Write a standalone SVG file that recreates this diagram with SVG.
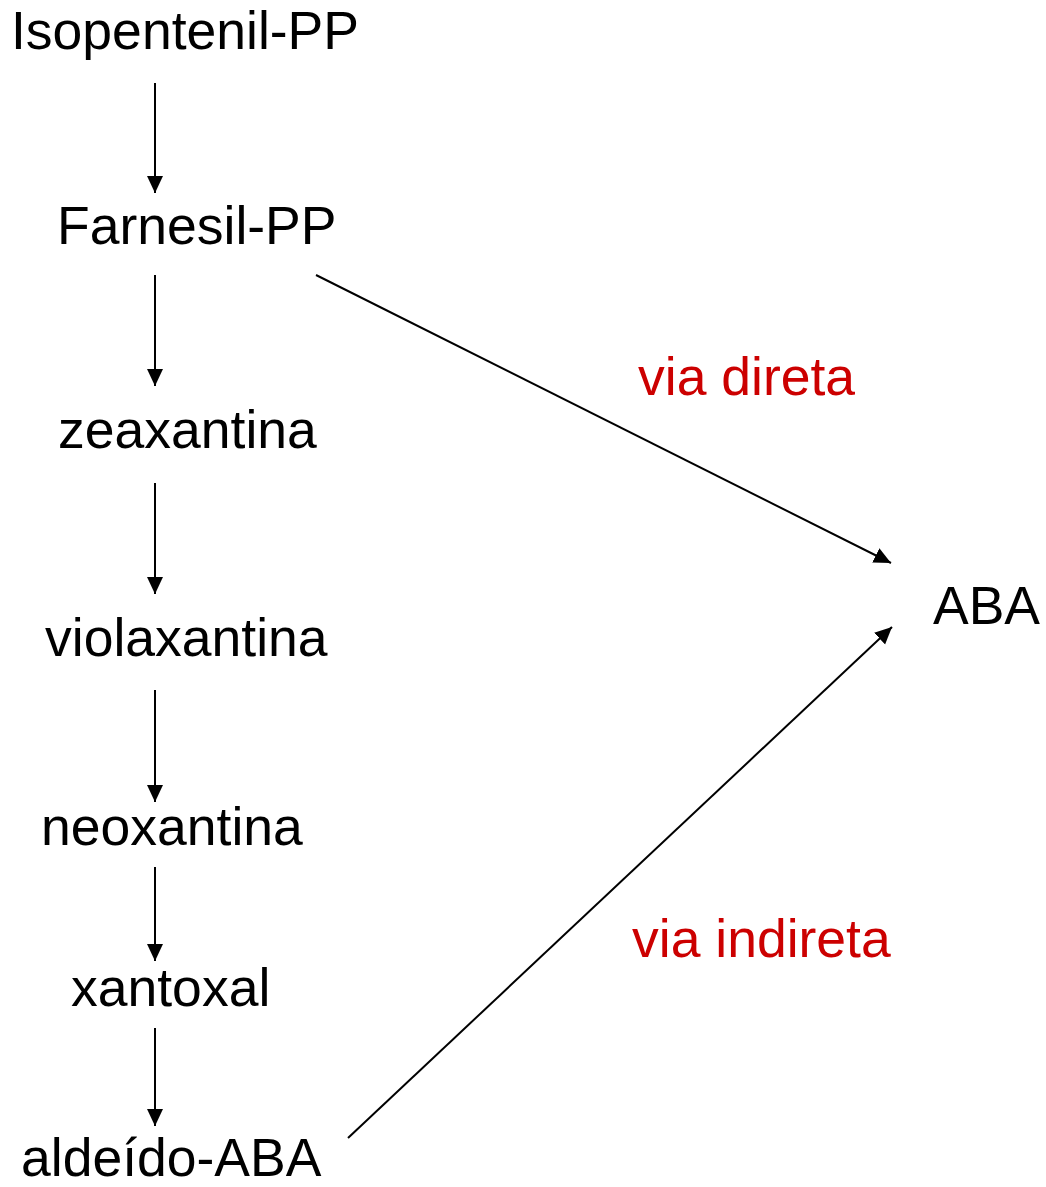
<svg xmlns="http://www.w3.org/2000/svg" width="1046" height="1187" viewBox="0 0 1046 1187">
<style>
.t{font-family:"Liberation Sans",Arial,sans-serif;font-size:53.5px;fill:#000}
.r{font-family:"Liberation Sans",Arial,sans-serif;font-size:53.5px;fill:#cc0000}
.c line{stroke:#000;stroke-width:2;fill:none}
</style>
<defs>
<marker id="ah" markerUnits="userSpaceOnUse" markerWidth="18" markerHeight="18" viewBox="0 0 18 18" refX="17" refY="9" orient="auto">
<path d="M0,1 L17,9 L0,17 Z" fill="#000"/>
</marker>
</defs>
<rect width="1046" height="1187" fill="#fff"/>
<g id="connectors" class="c">
<line x1="155" y1="83" x2="155" y2="193" marker-end="url(#ah)"/>
<line x1="155" y1="275" x2="155" y2="386" marker-end="url(#ah)"/>
<line x1="155" y1="483" x2="155" y2="594" marker-end="url(#ah)"/>
<line x1="155" y1="690" x2="155" y2="802" marker-end="url(#ah)"/>
<line x1="155" y1="867" x2="155" y2="961" marker-end="url(#ah)"/>
<line x1="155" y1="1028" x2="155" y2="1126" marker-end="url(#ah)"/>
<line x1="316" y1="275" x2="891" y2="563" marker-end="url(#ah)"/>
<line x1="348" y1="1138" x2="892" y2="627" marker-end="url(#ah)"/>
</g>
<g id="isopentenil"><text class="t" x="11" y="49">Isopentenil-PP</text></g>
<g id="farnesil"><text class="t" x="57" y="244">Farnesil-PP</text></g>
<g id="zeaxantina"><text class="t" x="58" y="448">zeaxantina</text></g>
<g id="violaxantina"><text class="t" x="45" y="656">violaxantina</text></g>
<g id="neoxantina"><text class="t" x="41" y="845">neoxantina</text></g>
<g id="xantoxal"><text class="t" x="71" y="1006">xantoxal</text></g>
<g id="aldeido"><text class="t" x="21" y="1176">aldeído-ABA</text></g>
<g id="aba"><text class="t" x="933" y="624">ABA</text></g>
<g id="via-direta"><text class="r" x="638" y="395">via direta</text></g>
<g id="via-indireta"><text class="r" x="632" y="957">via indireta</text></g>
</svg>
